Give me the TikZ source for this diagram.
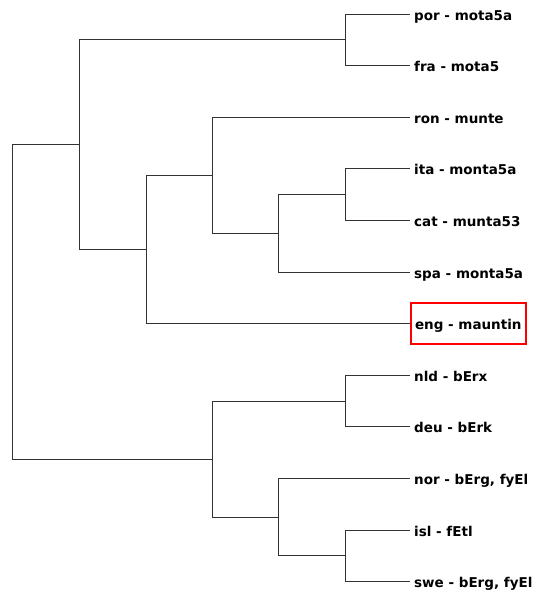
\documentclass[tikz,border=0pt]{standalone}
\usepackage{fontspec}
\setmainfont{DejaVu Sans}
\begin{document}
\begin{tikzpicture}[x=1pt,y=-1pt]
	\useasboundingbox (0,0) rectangle (536,597);
	
	\begin{scope}[every node/.style={anchor=west,inner xsep=4pt,inner ysep=0pt,text height=12pt,text depth=0pt,font=\fontsize{13.5}{16}\selectfont\bfseries}]
		\node (por) at (410,14) {por - mota5a};
		\node (fra) at (410,65.6) {fra - mota5};
		\node (ron) at (410,117.2) {ron - munte};
		\node (ita) at (410,168.8) {ita - monta5a};
		\node (cat) at (410,220.4) {cat - munta53};
		\node (spa) at (410,272) {spa - monta5a};
		\node[draw=red,line width=2pt,minimum height=41pt] (eng) at (410,323.6) {eng - mauntin};
		\node (nld) at (410,375.2) {nld - bErx};
		\node (deu) at (410,426.8) {deu - bErk};
		\node (nor) at (410,478.4) {nor - bErg, fyEl};
		\node (isl) at (410,530) {isl - fEtl};
		\node (swe) at (410,581.6) {swe - bErg, fyEl};
	\end{scope}
	
	% joins of the tree
	\coordinate (porfra) at (345,39.8);
	\coordinate (itacat) at (345,194.6);
	\coordinate (itaspa) at (278.5,233.3);
	\coordinate (ronspa) at (212,175.3);
	\coordinate (roneng) at (146,249.4);
	\coordinate (roman) at (79,144.6);
	\coordinate (nlddeu) at (345,401);
	\coordinate (islswe) at (345,555.8);
	\coordinate (norswe) at (278.5,517.1);
	\coordinate (germ) at (212,459);
	\coordinate (root) at (12,301.8);
	
	\begin{scope}[draw=black!80,line width=0.75pt]
		\foreach \p/\c in {porfra/por,porfra/fra,itacat/ita,itacat/cat,itaspa/itacat,itaspa/spa,
			ronspa/ron,ronspa/itaspa,roneng/ronspa,roneng/eng,roman/porfra,roman/roneng,
			nlddeu/nld,nlddeu/deu,islswe/isl,islswe/swe,norswe/nor,norswe/islswe,
			germ/nlddeu,germ/norswe,root/roman,root/germ}
			\draw (\p) |- (\c);
	\end{scope}
\end{tikzpicture}
\end{document}
